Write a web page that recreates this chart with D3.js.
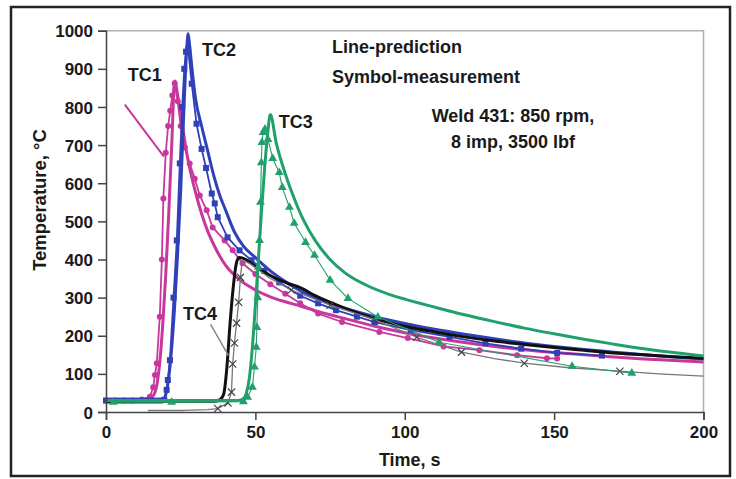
<!DOCTYPE html>
<html><head><meta charset="utf-8">
<script src="https://cdn.jsdelivr.net/npm/d3@7"></script>
<style>body{margin:0;background:#fff}svg{display:block}text{font-family:"Liberation Sans",Arial,Helvetica,sans-serif;font-weight:bold;fill:#1a1a1a}</style>
</head><body><svg id="c" width="736" height="479"></svg>
<script>
// ---- data (time s, temperature °C) ----
const xTicks = [0, 50, 100, 150, 200];
const yTicks = [0, 100, 200, 300, 400, 500, 600, 700, 800, 900, 1000];

const tc1Pred = [[0,30],[10,30],[14,32],[16,45],[17,70],[18,130],[19,230],[20,360],[21,520],[22,700],[23,868],[24,830],[25,780],[26,730],[27,680],[28,640],[30,575],[32,520],[34,475],[36,440],[38,410],[40,385],[45,345],[50,320],[55,302],[60,289],[65,278],[70,266],[80,245],[90,225],[100,208],[110,194],[120,182],[130,172],[140,163],[150,156],[160,150],[170,144],[180,139],[190,135],[200,131]];
const tc1Meas = [[0,30],[3,30],[6,30],[9,30],[12,33],[14.7,40],[15.8,65],[16.4,97],[17,128],[18,250],[18.7,400],[19.2,560],[20,680],[20.8,750],[21.5,790],[22.2,830],[23,862],[24,815],[25,750],[26.4,694],[28,652],[29.7,612],[31.4,568],[33.7,529],[35.7,484],[39.7,450],[42.4,424],[45.7,390],[50,362],[55,335],[60,310],[65,285],[71,258],[79,236],[91.5,210],[101,194],[113,172],[125,162],[137.6,149],[147.6,141],[151,140]];

const tc2Pred = [[0,30],[18,30],[19,32],[20,45],[21,90],[22,170],[23,280],[24,420],[25,580],[26,780],[27,950],[27.5,992],[28,960],[29,885],[30,820],[32,750],[34,686],[36,622],[38,570],[40,530],[43,472],[46,435],[50,405],[55,370],[60,342],[65,318],[70,300],[80,272],[90,250],[100,232],[110,217],[120,204],[130,192],[140,181],[150,172],[160,164],[170,157],[180,150],[190,144],[200,139]];
const tc2Meas = [[0,30],[2,30],[4,30],[6,30],[8,30],[10,30],[12,30],[14,30],[16,30],[18,30],[19.5,32],[20.3,58],[20.7,84],[21.4,136],[22.6,300],[23.7,450],[24.7,652],[25.5,800],[26.2,900],[26.8,945],[27.5,950],[28.7,861],[30.3,756],[32,690],[33.5,640],[35.4,573],[36.4,547],[37.4,511],[40.7,458],[44.7,424],[48.7,398],[53,370],[58,340],[65,305],[71,285],[77,267],[84,250],[90,236],[102,215],[115,197],[127,180],[139,166],[151,155],[166,148]];

const tc3Pred = [[0,30],[44,30],[46,35],[47,50],[48,90],[49,170],[50,280],[51,400],[52,520],[53,630],[54,720],[55,780],[57,705],[60,625],[63,560],[66,505],[70,450],[75,400],[80,365],[87,333],[95,308],[100,296],[110,275],[120,255],[130,237],[140,220],[150,205],[160,191],[170,178],[180,166],[190,156],[200,147]];
const tc3Meas = [[2.5,26],[22,26],[46,27],[47.4,39],[49,65],[49.7,118],[50.3,170],[50.5,222],[50.8,300],[51,380],[51.4,450],[51.7,550],[52,654],[52.2,707],[52.6,733],[53.2,742],[54.2,715],[55.8,665],[58,628],[59,589],[61.4,537],[63,495],[66.8,445],[69.8,411],[75,346],[81,298],[91,249],[111.5,183],[156,120],[176,102]];

const tc4Pred = [[0,28],[36,28],[38,32],[39,40],[39.5,50],[40.5,120],[41.5,230],[42.5,320],[43.5,385],[44.5,405],[46,403],[50,382],[55,358],[61,337],[65,326],[70,305],[80,272],[90,245],[100,225],[110,210],[120,197],[130,186],[140,177],[150,169],[160,162],[170,155],[180,150],[190,145],[200,141]];
const tc4Meas = [[14,4],[26,4],[34,6],[37.4,9],[40.8,24],[42,52],[42.4,126],[43,181],[43.7,233],[44.4,288],[45,353],[45.6,398],[48,390],[55,350],[62,320],[75,280],[90,242],[104,196],[119,157],[130,140],[140,128],[155,116],[172,107],[185,100],[200,94]];
const tc4Marked = [false,false,false,true,true,true,true,true,true,true,true,false,false,false,true,true,true,true,true,false,true,false,true,false,false];

const labels = [["TC1",7.3,867],["TC2",32.1,933],["TC3",57.8,745],["TC4",25.8,240]];
const leaderTC1 = [[6.3,806],[19.4,670]];
const leaderTC4 = [[35,230],[41,148]];
const legendLines = ["Line-prediction","Symbol-measurement"];
const weldLines = ["Weld 431: 850 rpm,","8 imp, 3500 lbf"];

// ---- chart ----
const svg = d3.select("#c");
const M = {l:106, r:703.5, t:30.7, b:412};
const x = d3.scaleLinear().domain([0,200]).range([M.l, M.r]);
const y = d3.scaleLinear().domain([0,1000]).range([M.b, M.t]);

svg.append("rect").attr("x",11).attr("y",7).attr("width",719).attr("height",469)
  .attr("fill","#fff").attr("stroke","#222").attr("stroke-width",2.5);

// inner top/right border
svg.append("path").attr("d",`M${M.l},${M.t}H${M.r}V${M.b}`).attr("fill","none")
  .attr("stroke","#b8aeac").attr("stroke-width",1.5);

const C = {mag:"#c8389c", blue:"#3040b8", green:"#22a06b", black:"#111", gray:"#777"};

const linePred = d3.line().x(d=>x(d[0])).y(d=>y(d[1])).curve(d3.curveMonotoneX);
const lineMeas = d3.line().x(d=>x(d[0])).y(d=>y(d[1]));

const g = svg.append("g");
function pred(data,col,w){ g.append("path").datum(data).attr("d",linePred).attr("fill","none").attr("stroke",col).attr("stroke-width",w).attr("stroke-linejoin","round"); }
function meas(data,col,w){ g.append("path").datum(data).attr("d",lineMeas).attr("fill","none").attr("stroke",col).attr("stroke-width",w).attr("stroke-linejoin","round"); }

// magenta
meas(tc1Meas,C.mag,1.8);
g.selectAll(null).data(tc1Meas).join("circle").attr("cx",d=>x(d[0])).attr("cy",d=>y(d[1])).attr("r",3).attr("fill",C.mag);
pred(tc1Pred,C.mag,3);
// blue
pred(tc2Pred,C.blue,3);
meas(tc2Meas,C.blue,1.8);
g.selectAll(null).data(tc2Meas).join("rect").attr("x",d=>x(d[0])-3).attr("y",d=>y(d[1])-3).attr("width",6).attr("height",6).attr("fill",C.blue);
// black + gray
pred(tc4Pred,C.black,3);
meas(tc4Meas,C.gray,1.3);
const cross = d3.symbol().type(d3.symbolX).size(36);
g.selectAll(null).data(tc4Meas.filter((d,i)=>tc4Marked[i])).join("path").attr("d",cross)
  .attr("transform",d=>`translate(${x(d[0])},${y(d[1])})`).attr("fill","none").attr("stroke","#444").attr("stroke-width",1.2);
// green
pred(tc3Pred,C.green,3);
meas(tc3Meas,C.green,1.1);
const tri = d3.symbol().type(d3.symbolTriangle).size(34);
g.selectAll(null).data(tc3Meas).join("path").attr("d",tri)
  .attr("transform",d=>`translate(${x(d[0])},${y(d[1])})`).attr("fill",C.green);

// leaders
svg.append("path").datum(leaderTC1).attr("d",lineMeas).attr("stroke",C.mag).attr("stroke-width",2).attr("fill","none");
svg.append("path").datum(leaderTC4).attr("d",lineMeas).attr("stroke","#888").attr("stroke-width",1.5).attr("fill","none");

// axes
const yAxis = svg.append("g").attr("transform",`translate(${M.l},0)`)
  .call(d3.axisLeft(y).tickValues(yTicks).tickSize(8).tickPadding(5).tickFormat(d3.format("d")));
const xAxis = svg.append("g").attr("transform",`translate(0,${M.b})`)
  .call(d3.axisBottom(x).tickValues(xTicks).tickSize(8).tickPadding(6).tickFormat(d3.format("d")));
[yAxis,xAxis].forEach(a=>{
  a.select(".domain").attr("stroke","#444").attr("stroke-width",1.5);
  a.selectAll(".tick line").attr("stroke","#444").attr("stroke-width",1.5);
  a.selectAll(".tick text").attr("font-size",17).attr("font-weight","bold").attr("fill","#1a1a1a")
   .attr("font-family","Liberation Sans, Arial, sans-serif");
});
yAxis.selectAll(".tick text").attr("dy","0.36em");

// axis titles
svg.append("text").attr("transform",`translate(46,200) rotate(-90)`).attr("text-anchor","middle")
  .attr("font-size",18.5).text("Temperature, °C");
svg.append("text").attr("x",(M.l+M.r)/2+5).attr("y",466).attr("text-anchor","middle")
  .attr("font-size",18).text("Time, s");

// curve labels
svg.selectAll(null).data(labels).join("text").attr("x",d=>x(d[1])).attr("y",d=>y(d[2]))
  .attr("font-size",18).text(d=>d[0]);

// legend notes
svg.selectAll(null).data(legendLines).join("text").attr("x",332).attr("y",(d,i)=>53+i*30)
  .attr("font-size",18).text(d=>d);
svg.selectAll(null).data(weldLines).join("text").attr("x",513).attr("y",(d,i)=>122+i*26)
  .attr("text-anchor","middle").attr("font-size",18).text(d=>d);
</script></body></html>
